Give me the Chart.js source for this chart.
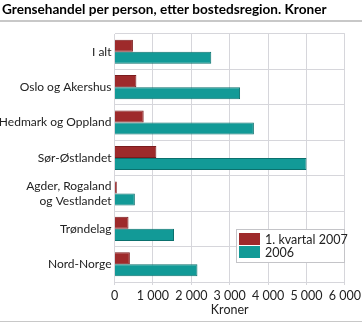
<!DOCTYPE html>
<html>
<head>
<meta charset="utf-8">
<script src="https://cdn.jsdelivr.net/npm/chart.js@4.4.1/dist/chart.umd.min.js"></script>
<style>
  html, body { margin: 0; padding: 0; background: #fff; }
  #wrap { position: relative; width: 364px; height: 324px; }
</style>
</head>
<body>
<div id="wrap"><canvas id="c" width="364" height="324"></canvas></div>
<script>
// Grensehandel per person, etter bostedsregion (kroner)
const regions = [
  'I alt',
  'Oslo og Akershus',
  'Hedmark og Oppland',
  'Sør-Østlandet',
  ['Agder, Rogaland', 'og Vestlandet'],
  'Trøndelag',
  'Nord-Norge'
];
const kvartal2007 = [480, 570, 760, 1090, 60, 365, 400];
const aar2006 = [2520, 3270, 3630, 5000, 530, 1550, 2160];
const xTicks = [0, 1000, 2000, 3000, 4000, 5000, 6000];

const seriesNames = ['1. kvartal 2007', '2006'];
const fillColors = ['#9e2a2b', '#129a97'];
const edgeColors = ['#7a1c1e', '#0b706d'];

const FONT = "Lato, 'Open Sans', sans-serif";
const GRID = '#d6d6db';

// Title and the thin rules above and below the chart
const frame = {
  id: 'frame',
  beforeDraw(chart) {
    const ctx = chart.ctx;
    ctx.save();
    ctx.fillStyle = '#000';
    ctx.font = 'bold 13.6px ' + FONT;
    ctx.textBaseline = 'middle';
    ctx.textAlign = 'left';
    ctx.fillText('Grensehandel per person, etter bostedsregion. Kroner', 2, 10);
    ctx.fillStyle = '#c8c8c8';
    ctx.fillRect(0, 20, 362, 2);
    ctx.fillRect(0, 321, 362, 1);
    ctx.restore();
  }
};

// Boxed legend placed inside the plot, lower right
const boxLegend = {
  id: 'boxLegend',
  afterDatasetsDraw(chart) {
    const ctx = chart.ctx;
    const x = 236, y = 229, w = 108, h = 33;
    ctx.save();
    ctx.fillStyle = '#fff';
    ctx.fillRect(x, y, w, h);
    ctx.strokeStyle = '#c4c4c8';
    ctx.lineWidth = 1;
    ctx.strokeRect(x + 0.5, y + 0.5, w, h);
    ctx.font = '12.5px ' + FONT;
    ctx.textBaseline = 'middle';
    ctx.textAlign = 'left';
    chart.data.datasets.forEach((ds, i) => {
      const ry = y + 4 + i * 13;
      ctx.fillStyle = ds.backgroundColor;
      ctx.fillRect(x + 3, ry, 21, 12);
      ctx.fillStyle = '#222';
      ctx.fillText(ds.label, x + 29, ry + 6.5);
    });
    ctx.restore();
  }
};

new Chart(document.getElementById('c'), {
  type: 'bar',
  data: {
    labels: regions,
    datasets: seriesNames.map((name, i) => ({
      label: name,
      data: i === 0 ? kvartal2007 : aar2006,
      backgroundColor: fillColors[i],
      borderColor: edgeColors[i],
      borderWidth: 1,
      borderSkipped: 'left',
      categoryPercentage: 0.68,
      barPercentage: 1.0
    }))
  },
  options: {
    indexAxis: 'y',
    responsive: false,
    animation: false,
    layout: { padding: { top: 34, right: 15, bottom: 7, left: 0 } },
    plugins: {
      legend: { display: false },
      title: { display: false },
      tooltip: { enabled: false }
    },
    scales: {
      x: {
        min: 0,
        max: 6000,
        afterBuildTicks(scale) { scale.ticks = xTicks.map(v => ({ value: v })); },
        afterFit(scale) { scale.height = 35; },
        grid: { color: GRID, lineWidth: 1, tickLength: 3, drawTicks: true },
        border: { display: false },
        ticks: {
          color: '#222',
          font: { family: FONT, size: 12.5 },
          padding: 3,
          maxRotation: 0,
          autoSkip: false,
          callback: v => v === 0 ? '0' : String(v).replace(/\B(?=(\d{3})+(?!\d))/g, '\u00a0')
        },
        title: {
          display: true,
          text: 'Kroner',
          color: '#222',
          font: { family: FONT, size: 12.5 },
          padding: { top: 0, bottom: 0 }
        }
      },
      y: {
        afterFit(scale) { scale.width = 114.5; },
        grid: { color: GRID, lineWidth: 1, drawTicks: false, offset: true },
        border: { display: false },
        ticks: {
          color: '#222',
          font: { family: FONT, size: 12 },
          padding: 3,
          autoSkip: false
        }
      }
    }
  },
  plugins: [frame, boxLegend]
});
</script>
</body>
</html>
